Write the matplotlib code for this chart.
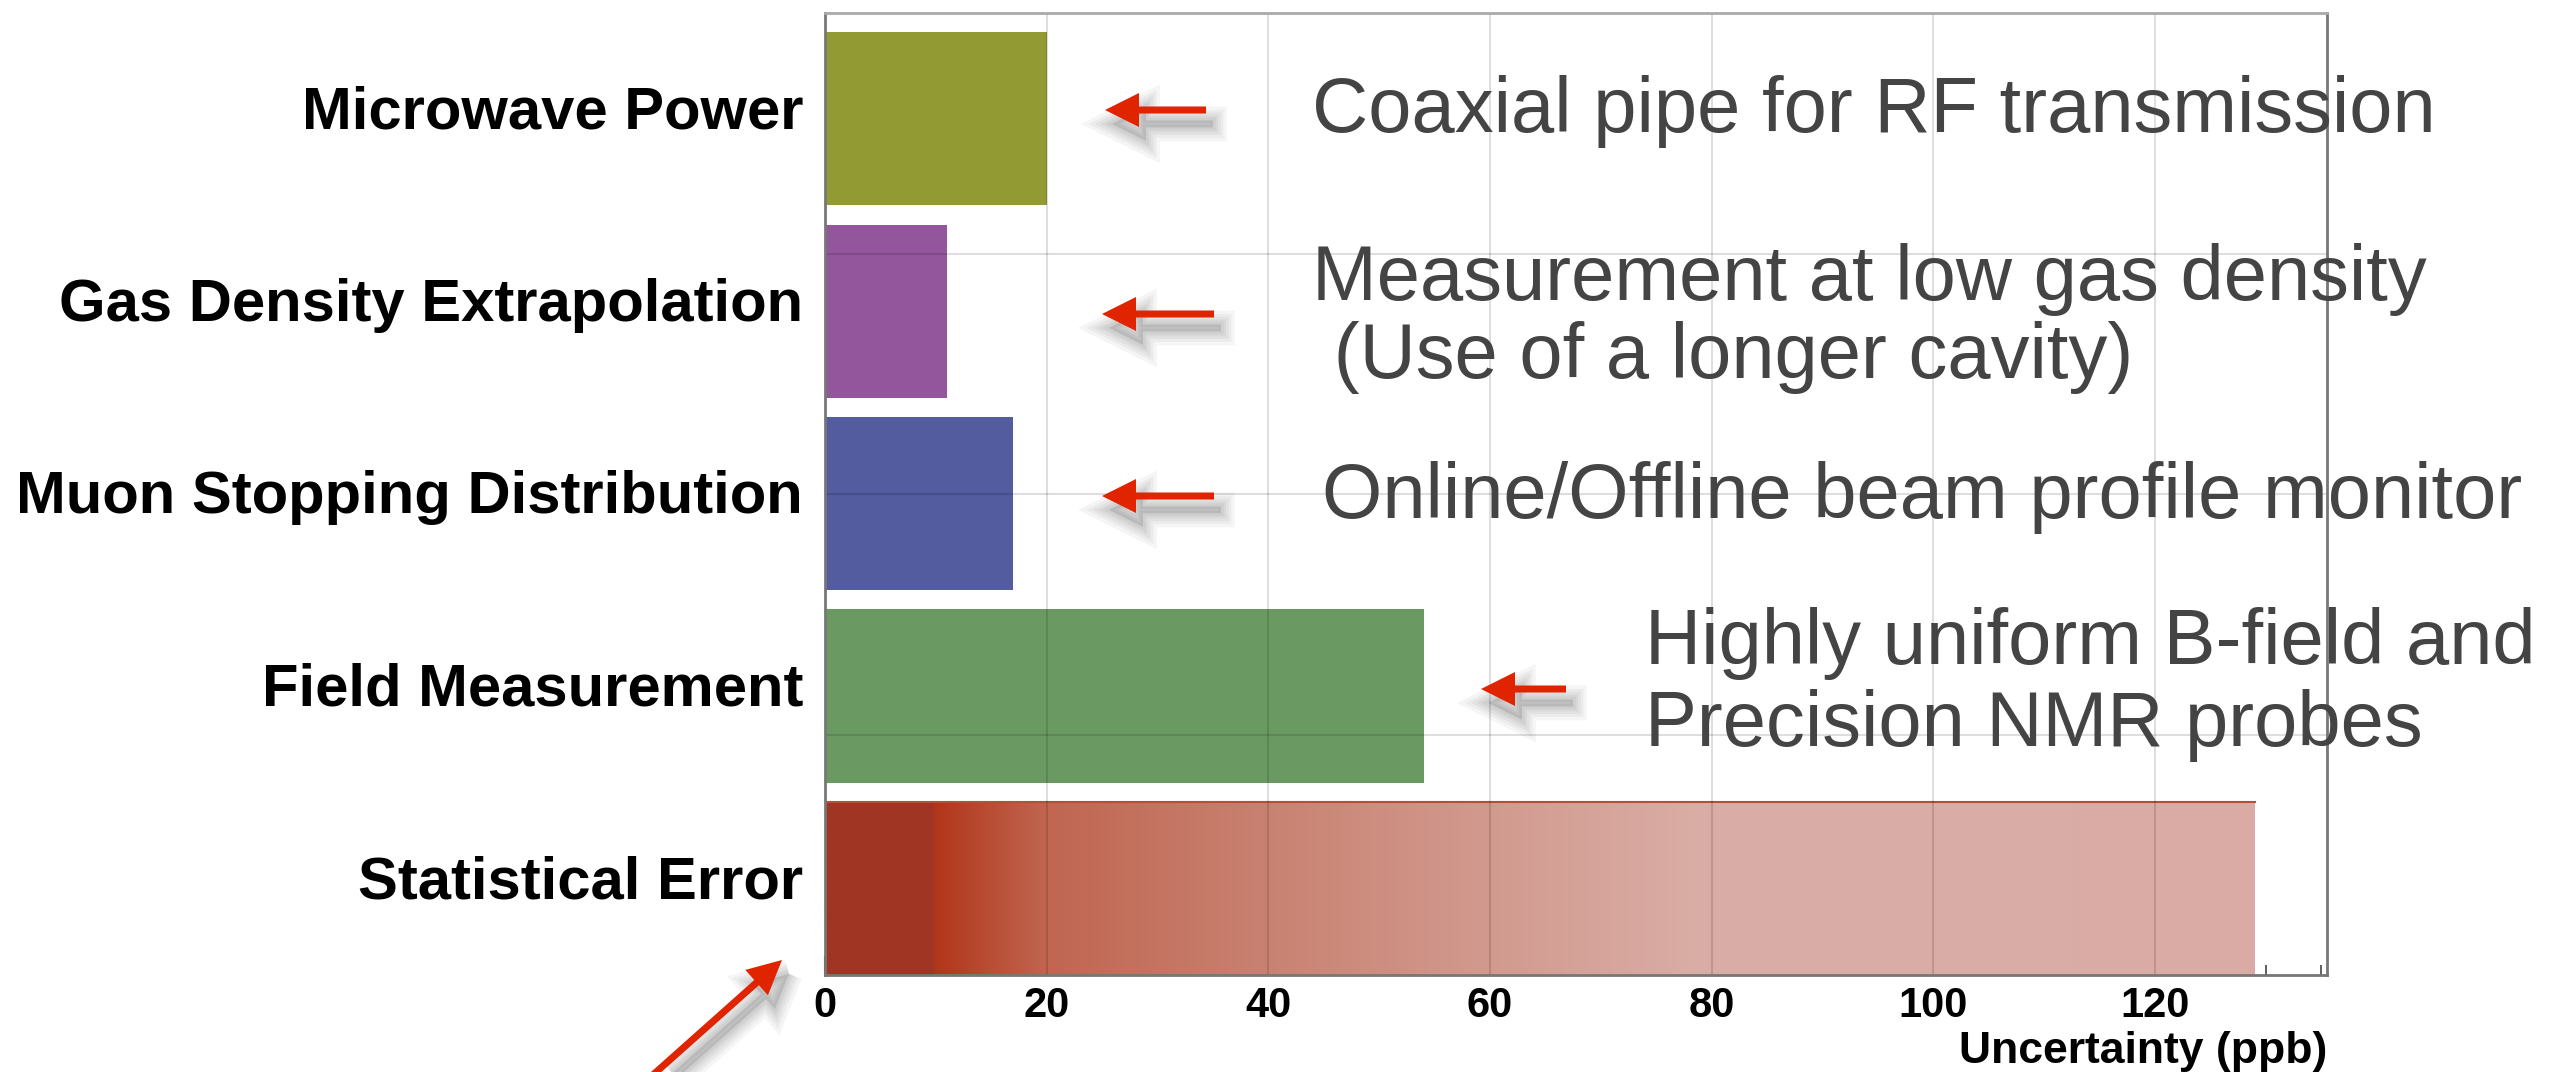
import numpy as np
import matplotlib
matplotlib.use("Agg")
import matplotlib.pyplot as plt
from matplotlib import patheffects as pe
from matplotlib.colors import LinearSegmentedColormap
from matplotlib.patches import FancyArrow
from matplotlib.ticker import MultipleLocator

# bottom to top
categories = [
    "Statistical Error",
    "Field Measurement",
    "Muon Stopping Distribution",
    "Gas Density Extrapolation",
    "Microwave Power",
]
uncertainty_ppb = [129, 54, 17, 11, 20]
bar_colors = ["#A03523", "#6A9A62", "#535C9E", "#93559B", "#929A33"]
x_ticks = [0, 20, 40, 60, 80, 100, 120]
x_label = "Uncertainty (ppb)"

# remarks on the right, one entry per line of text
note_lines = [
    "Coaxial pipe for RF transmission",
    "Measurement at low gas density",
    " (Use of a longer cavity)",
    "Online/Offline beam profile monitor",
    "Highly uniform B-field and",
    "Precision NMR probes",
]

W, H, DPI = 2571, 1072, 100
fig = plt.figure(figsize=(W / DPI, H / DPI), dpi=DPI)
ax = fig.add_axes([825 / W, 1 - 975 / H, (2327 - 825) / W, (975 - 13) / H])

bar_h = 0.9
ypos = np.arange(len(categories))
bars = ax.barh(ypos, uncertainty_ppb, height=bar_h, align="edge",
               color=bar_colors, edgecolor="none", zorder=2)

# statistical error bar gets a dark core and a fading tail
stat = bars[0]
stops = [(0.0, "#A03523"), (9.7, "#A03523"), (9.9, "#B2361A"), (20, "#C06651"),
         (40, "#C98272"), (60, "#D29A8F"), (80, "#DAAEA7"), (uncertainty_ppb[0], "#D9ABA4")]
cmap = LinearSegmentedColormap.from_list(
    "stat", [(p / uncertainty_ppb[0], c) for p, c in stops], N=1024)
grad = np.linspace(0, 1, 1024).reshape(1, -1)
im = ax.imshow(grad, cmap=cmap, aspect="auto", zorder=2.1, interpolation="bilinear",
               extent=[0, uncertainty_ppb[0], 0, bar_h])
im.set_clip_path(stat)
ax.plot([0, uncertainty_ppb[0]], [bar_h, bar_h], color="#B0503E", lw=1.5, zorder=2.2)

ax.set_xlim(0, 135.5)
ax.set_ylim(0, len(categories))

ax.set_xticks(x_ticks)
ax.set_xticklabels([str(t) for t in x_ticks], fontsize=30, fontweight="bold",
                   family="Liberation Sans")
ax.xaxis.set_minor_locator(MultipleLocator(5))
ax.tick_params(axis="x", which="major", direction="in", length=14, width=1.5,
               color="#444444", pad=8)
ax.tick_params(axis="x", which="minor", direction="in", length=7, width=1.2,
               color="#444444")

ax.set_yticks([1.25, 2.5, 3.75])
ax.set_yticklabels([])
ax.tick_params(axis="y", direction="in", length=41, width=2, color="#333333")

for v in x_ticks[1:]:
    ax.axvline(v, color="black", alpha=0.13, lw=1.5, zorder=3)
for v in [1.25, 2.5, 3.75]:
    ax.axhline(v, color="black", alpha=0.13, lw=1.5, zorder=3)

for s in ax.spines.values():
    s.set_color("#777777")
    s.set_linewidth(2)
    s.set_zorder(4)
ax.spines["top"].set_color("#aaaaaa")

for i, name in enumerate(categories):
    ax.text(-22 / (2327 - 825), i + bar_h / 2 + 0.03, name,
            transform=ax.get_yaxis_transform(), ha="right", va="center",
            fontsize=43, fontweight="bold", family="Liberation Sans", color="black")

ax.text(1.0, -0.08, x_label, transform=ax.transAxes, ha="right", va="center",
        fontsize=32, fontweight="bold", family="Liberation Sans")

# overlay in pixel units for arrows and remarks
ov = fig.add_axes([0, 0, 1, 1], zorder=10)
ov.set_xlim(0, W)
ov.set_ylim(H, 0)
ov.axis("off")
ov.patch.set_alpha(0)

note_xy = [(1312, 112), (1312, 279), (1312, 357), (1322, 497), (1645, 644), (1645, 725)]
for line, (x, y) in zip(note_lines, note_xy):
    ov.text(x, y, line, ha="left", va="center", fontsize=56, color="#444444",
            family="Liberation Sans")

arrows = [
    ((1206, 110), (1105, 110)),
    ((1214, 314), (1102, 314)),
    ((1214, 496), (1102, 496)),
    ((1566, 689), (1481, 689)),
    ((636, 1090), (782, 960)),
]
# soft grey drop shadow: stacked outline strokes plus a faint fill, shifted down-right
shadow = [pe.SimpleLineShadow(offset=(5, -10), shadow_color="black", alpha=0.04,
                              rho=1, linewidth=w)
          for w in (20, 15, 11, 7, 4)]
shadow += [pe.SimplePatchShadow(offset=(5, -10), shadow_rgbFace="black", alpha=0.1),
           pe.Normal()]
for (x0, y0), (x1, y1) in arrows:
    arr = FancyArrow(x0, y0, x1 - x0, y1 - y0, width=7, head_width=34,
                     head_length=34, length_includes_head=True,
                     color="#E02400", lw=0)
    arr.set_path_effects(shadow)
    ov.add_patch(arr)

fig.savefig("out.png", dpi=DPI)
